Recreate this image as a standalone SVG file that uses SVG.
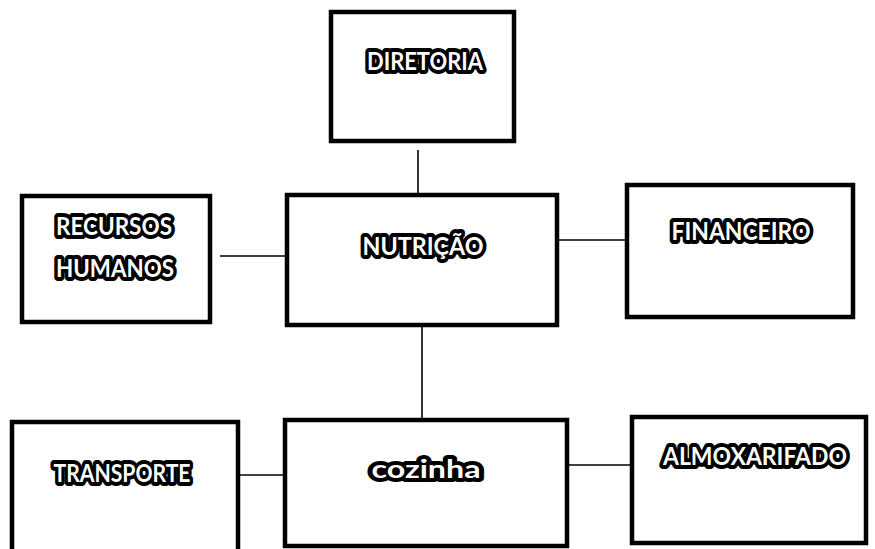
<svg xmlns="http://www.w3.org/2000/svg" width="875" height="549" viewBox="0 0 875 549">
<style>
.box{fill:#ffffff;stroke:#000000;stroke-width:4.5}
.lbl{font-family:Lato,"Open Sans","Liberation Sans",sans-serif;font-weight:bold;font-size:25px;fill:#ffffff;stroke:#000000;stroke-width:8;stroke-linejoin:round;paint-order:stroke;text-anchor:middle}
.con{stroke:#000000;stroke-width:1.6;fill:none}
</style>
<rect width="875" height="549" fill="#ffffff"/>
<g id="connectors">
<line class="con" x1="418" y1="150" x2="418" y2="195"/>
<line class="con" x1="220" y1="256" x2="287" y2="256"/>
<line class="con" x1="557" y1="240" x2="627" y2="240"/>
<line class="con" x1="422" y1="325" x2="422" y2="420"/>
<line class="con" x1="240" y1="475" x2="285" y2="475"/>
<line class="con" x1="567" y1="465" x2="632" y2="465"/>
</g>
<g id="diretoria">
<rect class="box" x="331" y="12" width="183" height="129"/>
<text class="lbl" x="425" y="70" textLength="116" lengthAdjust="spacingAndGlyphs">DIRETORIA</text>
</g>
<g id="recursos-humanos">
<rect class="box" x="22" y="196" width="188" height="126"/>
<text class="lbl" x="114" y="235" textLength="116" lengthAdjust="spacingAndGlyphs">RECURSOS</text>
<text class="lbl" x="115" y="277" textLength="118" lengthAdjust="spacingAndGlyphs">HUMANOS</text>
</g>
<g id="nutricao">
<rect class="box" x="287" y="195" width="270" height="130"/>
<text class="lbl" x="423" y="255" textLength="121" lengthAdjust="spacingAndGlyphs">NUTRIÇÃO</text>
</g>
<g id="financeiro">
<rect class="box" x="627" y="185" width="226" height="132"/>
<text class="lbl" x="741" y="240" textLength="139" lengthAdjust="spacingAndGlyphs">FINANCEIRO</text>
</g>
<g id="transporte">
<rect class="box" x="12" y="422" width="226" height="130"/>
<text class="lbl" x="122" y="482" textLength="137" lengthAdjust="spacingAndGlyphs">TRANSPORTE</text>
</g>
<g id="cozinha">
<rect class="box" x="285" y="420" width="282" height="126"/>
<text class="lbl" x="426" y="478" textLength="109" lengthAdjust="spacingAndGlyphs">cozinha</text>
</g>
<g id="almoxarifado">
<rect class="box" x="632" y="417" width="234" height="126"/>
<text class="lbl" x="755" y="465" textLength="184" lengthAdjust="spacingAndGlyphs">ALMOXARIFADO</text>
</g>
</svg>
